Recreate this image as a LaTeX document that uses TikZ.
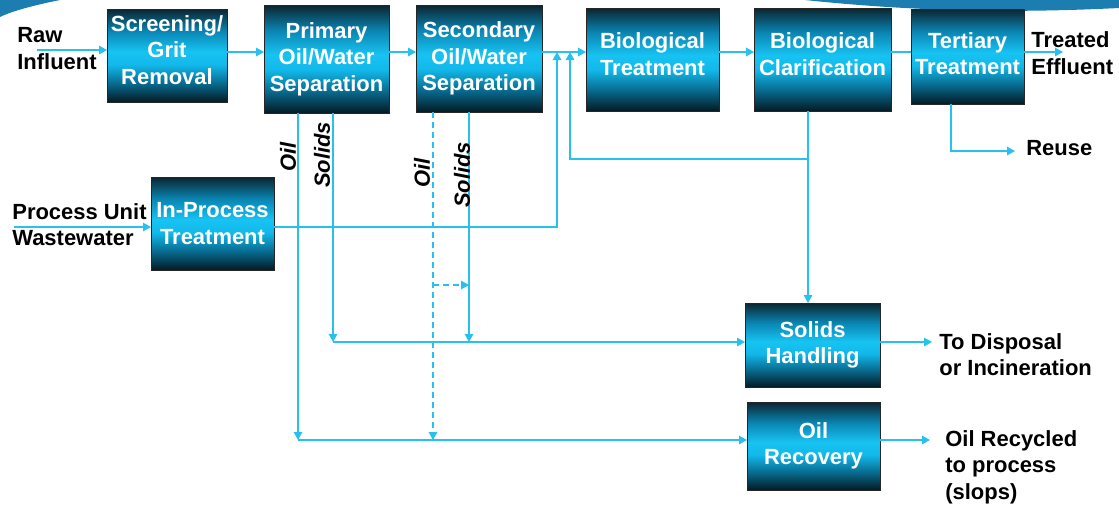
\documentclass[tikz,border=0pt]{standalone}
\usepackage{fontspec}
\setmainfont{Liberation Sans}
\usetikzlibrary{arrows.meta}

\definecolor{pipecol}{RGB}{40,192,238}
\definecolor{swoosh}{RGB}{28,126,176}
\definecolor{unittop}{HTML}{0B2530}
\definecolor{unithi}{HTML}{0A86B4}
\definecolor{unitmid}{HTML}{17C3F2}
\definecolor{unitlow}{HTML}{12B8EA}
\definecolor{unitdim}{HTML}{086A8E}
\definecolor{unitbot}{HTML}{041A24}

% dark - cyan - dark, box spans 25bp..75bp
\pgfdeclareverticalshading{unitshade}{100bp}{color(0bp)=(unitbot); color(25bp)=(unitbot);
  color(35bp)=(unitdim); color(45bp)=(unitlow); color(52bp)=(unitmid);
  color(63bp)=(unithi); color(75bp)=(unittop); color(100bp)=(unittop)}

\begin{document}
\begin{tikzpicture}[x=0.02cm, y=-0.02cm,
  txt/.style={font=\bfseries\fontsize{12.5}{15}\selectfont},
  unit/.style={txt, draw=black!85, line width=0.5pt, shading=unitshade, text=white,
    align=center, inner sep=0pt, outer sep=0pt},
  lift/.style={text depth=#1},
  tag/.style={txt, align=left, anchor=west, inner sep=0pt},
  sidetag/.style={font=\bfseries\itshape\fontsize{12.5}{15}\selectfont, rotate=90, inner sep=0pt},
  pipe/.style={draw=pipecol, line width=0.8pt},
  flow/.style={pipe, -{Triangle[length=1.6mm, width=1.7mm]}},
  oilfeed/.style={flow, dash pattern=on 3.4pt off 2.3pt}]

\useasboundingbox (0,0) rectangle (1119,508);

% corner swooshes
\fill[swoosh] (0,0) -- (60,0) .. controls (35,5) and (12,11) .. (0,17) -- cycle;
\fill[swoosh] (805,0) .. controls (900,10) and (1000,14) .. (1119,8) -- (1119,0) -- cycle;

% main train
\node[unit, lift=6.3pt, minimum width=2.4cm, minimum height=1.86cm] (screen) at (167,55.5) {Screening/\\Grit\\Removal};
\node[unit, minimum width=2.5cm, minimum height=2.16cm] (primary) at (326.5,59) {Primary\\Oil/Water\\Separation};
\node[unit, minimum width=2.52cm, minimum height=2.14cm] (secondary) at (479,58.5) {Secondary\\Oil/Water\\Separation};
\node[unit, lift=6.3pt, minimum width=2.66cm, minimum height=2.06cm] (biotreat) at (652.5,59.5) {Biological\\Treatment};
\node[unit, lift=6.3pt, minimum width=2.74cm, minimum height=2.06cm] (bioclar) at (822.5,59.5) {Biological\\Clarification};
\node[unit, lift=3.4pt, minimum width=2.26cm, minimum height=1.9cm] (tertiary) at (967.5,56.5) {Tertiary\\Treatment};

% side units
\node[unit, minimum width=2.46cm, minimum height=1.86cm] (inproc) at (212.5,223.5) {In-Process\\Treatment};
\node[unit, minimum width=2.7cm, minimum height=1.68cm] (solids) at (812.5,345) {Solids\\Handling};
\node[unit, minimum width=2.66cm, minimum height=1.76cm] (oilrec) at (813.5,446) {Oil\\Recovery};

% junctions
\coordinate (mainline) at (0,52);
\coordinate (raw) at (37,50);
\coordinate (effluent) at (1063,52);
\coordinate (wastewater) at (14,227);
\coordinate (ipjoin) at (557,227);
\coordinate (clardrop) at (808,159);
\coordinate (recycle) at (570,159);
\coordinate (reuse) at (951,151);
\coordinate (reuseend) at (1015,151);
\coordinate (oil1) at (298,440);
\coordinate (sol1) at (333,342);
\coordinate (oil2) at (433,440);
\coordinate (oilsplit) at (433,285);
\coordinate (sol2) at (469,342);
\coordinate (disposal) at (932,342);
\coordinate (slops) at (930,440);

% liquid path
\draw[flow] (raw) -- (raw -| screen.west);
\draw[flow] (screen.east |- mainline) -- (primary.west |- mainline);
\draw[flow] (primary.east |- mainline) -- (secondary.west |- mainline);
\draw[flow] (secondary.east |- mainline) -- (biotreat.west |- mainline);
\draw[flow] (biotreat.east |- mainline) -- (bioclar.west |- mainline);
\draw[pipe] (bioclar.east |- mainline) -- (tertiary.west |- mainline);
\draw[flow] (tertiary.east |- mainline) -- (effluent);
\draw[flow] (reuse |- tertiary.south) -- (reuse) -- (reuseend);

% process unit wastewater
\draw[flow] (wastewater) -- (wastewater -| inproc.west);
\draw[flow] (inproc.east |- ipjoin) -- (ipjoin) -- (ipjoin |- mainline);

% clarifier underflow
\draw[flow] (clardrop |- bioclar.south) -- (clardrop |- solids.north);
\draw[flow] (clardrop) -- (recycle) -- (recycle |- mainline);

% oil and solids draw-offs
\draw[flow] (oil1 |- primary.south) -- (oil1);
\draw[flow] (oil1) -- (oil1 -| oilrec.west);
\draw[flow] (sol1 |- primary.south) -- (sol1);
\draw[flow] (sol1) -- (sol1 -| solids.west);
\draw[oilfeed] (oil2 |- secondary.south) -- (oil2);
\draw[oilfeed] (oilsplit) -- (oilsplit -| sol2);
\draw[flow] (sol2 |- secondary.south) -- (sol2);

\draw[flow] (solids.east |- sol1) -- (disposal);
\draw[flow] (oilrec.east |- oil1) -- (slops);

% stream labels
\node[tag] (rawtag) at (17,48.5) {Raw\\Influent};
\node[tag] (wwtag) at (12,224.5) {Process Unit\\Wastewater};
\node[tag] (efftag) at (1031,53) {Treated\\Effluent};
\node[tag] (reusetag) at (1026,148) {Reuse};
\node[tag] (disptag) at (939,354.5) {To Disposal\\or Incineration};
\node[tag] (slopstag) at (945,467) {Oil Recycled\\to process\\(slops)};

\node[sidetag] (oiltag1) at (288,157) {Oil};
\node[sidetag] (soltag1) at (322,155) {Solids};
\node[sidetag] (oiltag2) at (422,173) {Oil};
\node[sidetag] (soltag2) at (462,175) {Solids};

\end{tikzpicture}
\end{document}
